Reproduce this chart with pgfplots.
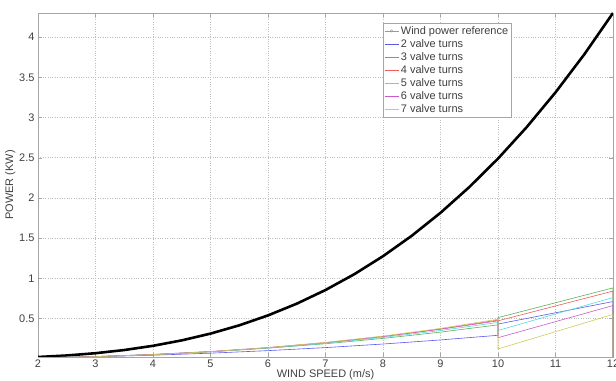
\documentclass[border=0pt]{standalone}
\usepackage{pgfplots}
\pgfplotsset{compat=1.18}
\usepackage{fontspec}
\setmainfont{Liberation Sans}
\definecolor{mblue}{rgb}{0.35,0.35,0.95}
\definecolor{mgreen}{rgb}{0.35,0.7,0.35}
\definecolor{mred}{rgb}{0.95,0.35,0.35}
\definecolor{mcyan}{rgb}{0.35,0.85,0.85}
\definecolor{mmag}{rgb}{0.8,0.35,0.8}
\definecolor{myel}{rgb}{0.8,0.8,0.35}
\begin{document}
\begin{tikzpicture}
\begin{axis}[
  scale only axis,
  width=575bp, height=344bp,
  xmin=2, xmax=12, ymin=0.02, ymax=4.3,
  xtick={2,3,...,12},
  ytick={0.5,1,1.5,2,2.5,3,3.5,4},
  /pgf/number format/assume math mode=true,
  font=\fontsize{11}{12}\selectfont,
  tick label style={font=\fontsize{11}{12}\selectfont, text=black!75},
  label style={font=\fontsize{11}{12}\selectfont, text=black!75},
  xlabel={WIND SPEED (m/s)},
  ylabel={POWER (KW)},
  xlabel style={yshift=5pt},
  ylabel style={yshift=-3pt},
  grid=major,
  major grid style={dotted, gray!50},
  axis line style={gray!70},
  tick style={gray!70},
  tick align=inside,
  major tick length=4bp,
  xticklabel style={yshift=1pt},
  legend style={at={(rel axis cs:0.6,0.971)}, anchor=north west,
    draw=gray!70, font=\fontsize{11}{12}\selectfont, text=black!75,
    inner sep=1pt, row sep=-0.3pt, cells={anchor=west}},
  legend cell align=left,
  legend image code/.code={\draw[#1] (0cm,0cm) -- (0.5cm,0cm);},
]
\addlegendimage{legend image code/.code={\draw[gray!80, thin] (0cm,0cm) -- (0.5cm,0cm); \draw[gray!80, thin] (0.25cm,0cm) circle (1.2pt);}}
\addlegendentry{Wind power reference}
\addplot[black, line width=2.6pt, forget plot] coordinates {
(2,0.0199)(2.5,0.0389)(3,0.0672)(3.5,0.1067)(4,0.1593)(4.5,0.2268)(5,0.3111)(5.5,0.4140)(6,0.5375)(6.5,0.6834)(7,0.8535)(7.5,1.0498)(8,1.2741)(8.5,1.5282)(9,1.8141)(9.5,2.1336)(10,2.4884)(10.5,2.8807)(11,3.3121)(11.5,3.7846)(12,4.3000)};
\addplot[mblue, line width=0.6pt] coordinates {
(2,0.0099)(3,0.0231)(4,0.0423)(5,0.0677)(6,0.0992)(7,0.1370)(8,0.1815)(9,0.2324)(10,0.2900)(10,0.4300)(12,0.7100)(12,0.02)};
\addlegendentry{2 valve turns}
\addplot[mgreen, line width=0.6pt] coordinates {
(2,0.0104)(3,0.0263)(4,0.0510)(5,0.0853)(6,0.1297)(7,0.1849)(8,0.2514)(9,0.3296)(10,0.4200)(10,0.5100)(12,0.8800)(12,0.02)};
\addlegendentry{3 valve turns}
\addplot[mred, line width=0.6pt] coordinates {
(2,0.0086)(3,0.0237)(4,0.0486)(5,0.0849)(6,0.1339)(7,0.1968)(8,0.2748)(9,0.3688)(10,0.4800)(10,0.4700)(12,0.8400)(12,0.02)};
\addlegendentry{4 valve turns}
\addplot[mcyan, line width=0.6pt] coordinates {
(2,0.0095)(3,0.0250)(4,0.0499)(5,0.0853)(6,0.1321)(7,0.1912)(8,0.2634)(9,0.3495)(10,0.4500)(10,0.3500)(12,0.7600)(12,0.02)};
\addlegendentry{5 valve turns}
\addplot[mmag, line width=0.6pt] coordinates {
(2,0.0099)(3,0.0261)(4,0.0521)(5,0.0891)(6,0.1379)(7,0.1996)(8,0.2750)(9,0.3649)(10,0.4700)(10,0.2600)(12,0.6600)(12,0.02)};
\addlegendentry{6 valve turns}
\addplot[myel, line width=0.6pt] coordinates {
(2,0.0088)(3,0.0242)(4,0.0496)(5,0.0867)(6,0.1367)(7,0.2009)(8,0.2805)(9,0.3765)(10,0.4900)(10,0.1200)(12,0.5500)(12,0.02)};
\addlegendentry{7 valve turns}
\end{axis}
\pgfresetboundingbox
\path ([shift={(-38bp,-24bp)}]current axis.south west) rectangle ([shift={(3bp,13bp)}]current axis.north east);
\end{tikzpicture}
\end{document}
